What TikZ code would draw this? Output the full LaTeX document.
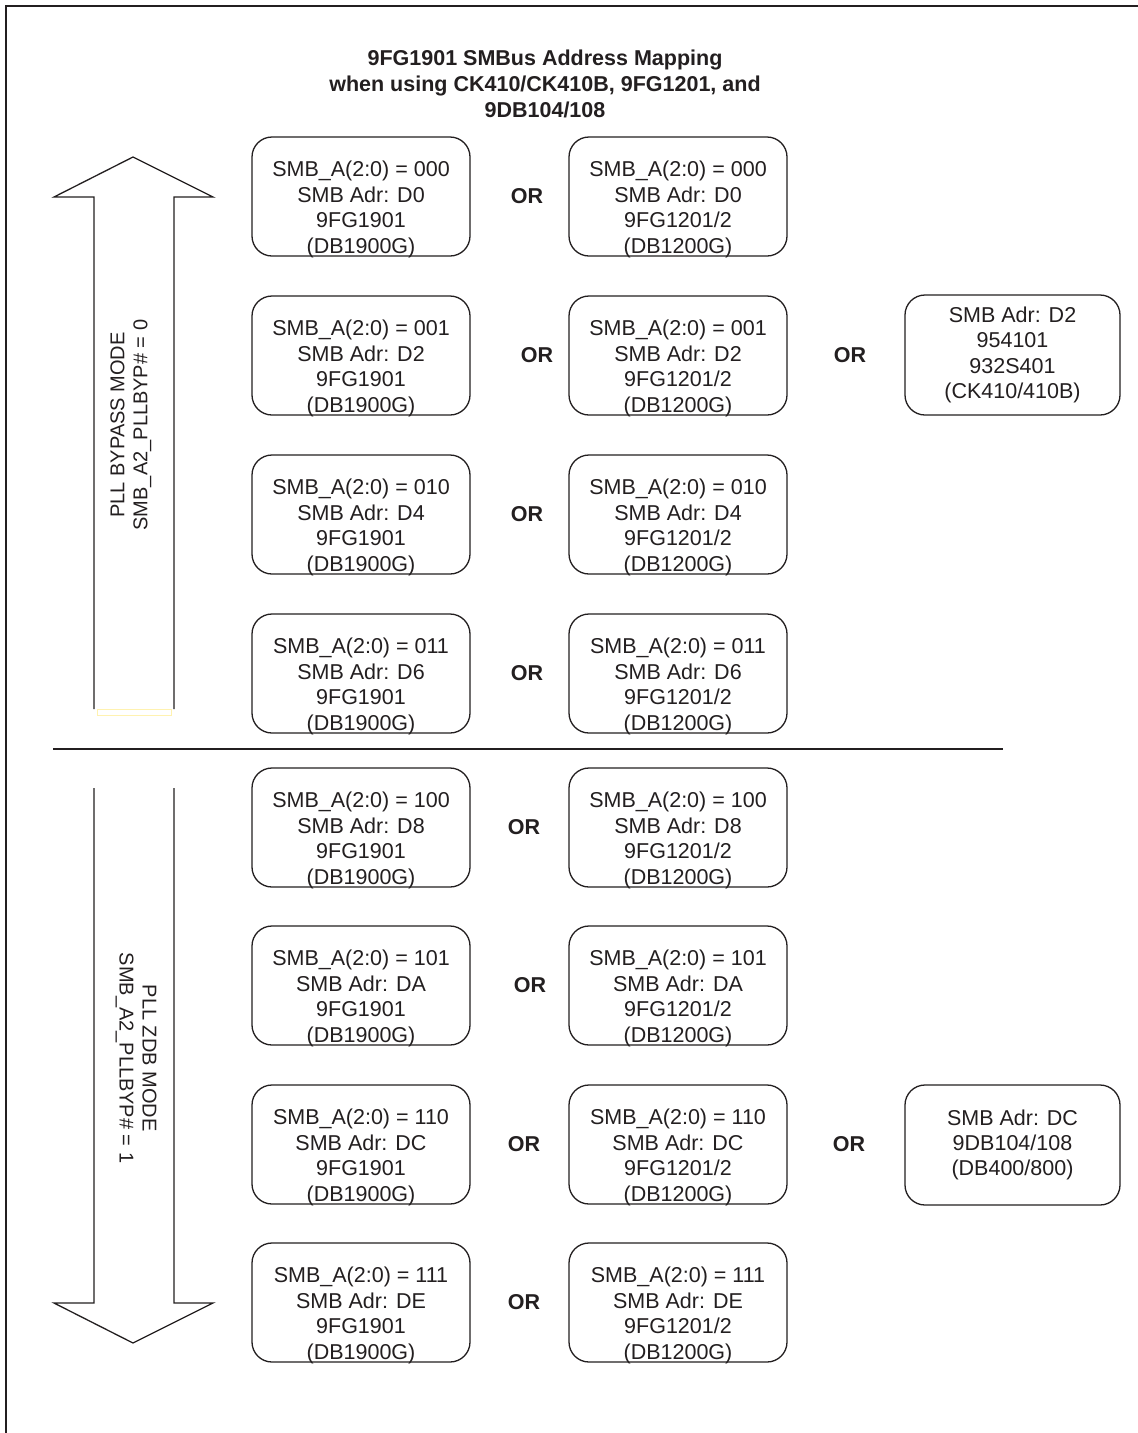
\documentclass[tikz,border=0pt]{standalone}
\usepackage{fontspec}
\setmainfont{Liberation Sans}
\definecolor{ink}{HTML}{231F20}
\definecolor{faintyellow}{HTML}{FFF2B0}
\begin{document}
\begin{tikzpicture}[x=1pt,y=-1pt,
  box/.style={draw=ink, line width=1.3pt, rounded corners=20pt, minimum width=218pt, minimum height=119pt, inner sep=0pt},
  boxtxt/.style={text=ink, align=center, font=\fontsize{21.5}{25.4}\selectfont, inner sep=0pt},
  ortxt/.style={text=ink, font=\fontsize{21.5}{25.4}\selectfont\bfseries, inner sep=0pt},
  lbl/.style={text=ink, align=center, font=\fontsize{20}{23}\selectfont, inner sep=0pt},
  titletxt/.style={text=ink, align=center, font=\fontsize{21.5}{26}\selectfont\bfseries, inner sep=0pt},
  outline/.style={draw=ink, line width=1.3pt, line join=miter}]
\fill[white] (0,0) rectangle (1138,1433);
\useasboundingbox (0,0) rectangle (1138,1433);
% frame
\draw[ink, line width=2.5pt] (6,1433) -- (6,6) -- (1138,6);
% title
\node[titletxt] (title) at (545,83.5) {9FG1901 SMBus Address Mapping\\when using CK410/CK410B, 9FG1201, and\\9DB104/108};
% up arrow
\draw[outline] (94,709) -- (94,197) -- (54,197) -- (133,157) -- (213,197) -- (174,197) -- (174,709);
\draw[faintyellow, line width=1pt] (97,709) rectangle (171,715);
% down arrow
\draw[outline] (94,788) -- (94,1303) -- (54,1303) -- (133,1343) -- (213,1303) -- (174,1303) -- (174,788);
% labels
\node[lbl, rotate=90] (uplbl) at (131,425) {PLL BYPASS MODE\\SMB\_A2\_PLLBYP\# = 0};
\node[lbl, rotate=-90] (dnlbl) at (136,1058) {PLL ZDB MODE\\SMB\_A2\_PLLBYP\# = 1};
% divider
\draw[ink, line width=1.3pt] (53,749) -- (1003,749);
% boxes
\foreach \rw/\cyy/\cde/\adx/\ox in {1/196.5/000/D0/527, 2/355.5/001/D2/537, 3/514.5/010/D4/527, 4/673.5/011/D6/527, 5/827.5/100/D8/524, 6/985.5/101/DA/530, 7/1144.5/110/DC/524, 8/1302.5/111/DE/524}{
  \node[box] (a\rw) at (361,\cyy) {};
  \node[boxtxt] (ta\rw) at ([yshift=-13pt]a\rw.center) {SMB\_A(2:0) = \cde\\SMB Adr: \adx\\9FG1901\\(DB1900G)};
  \node[box] (b\rw) at (678,\cyy) {};
  \node[boxtxt] (tb\rw) at ([yshift=-13pt]b\rw.center) {SMB\_A(2:0) = \cde\\SMB Adr: \adx\\9FG1201/2\\(DB1200G)};
  \node[ortxt] (or\rw) at (\ox,\cyy) {OR};
}
\node[box, minimum width=215pt, minimum height=120pt] (c2) at (1012.5,355) {};
\node[boxtxt] (tc2) at (c2.center) {SMB Adr: D2\\954101\\932S401\\(CK410/410B)};
\node[ortxt] (orc2) at (850,355.5) {OR};
\node[box, minimum width=215pt, minimum height=120pt] (c7) at (1012.5,1145) {};
\node[boxtxt] (tc7) at (c7.center) {SMB Adr: DC\\9DB104/108\\(DB400/800)};
\node[ortxt] (orc7) at (849,1144.5) {OR};
\end{tikzpicture}
\end{document}
